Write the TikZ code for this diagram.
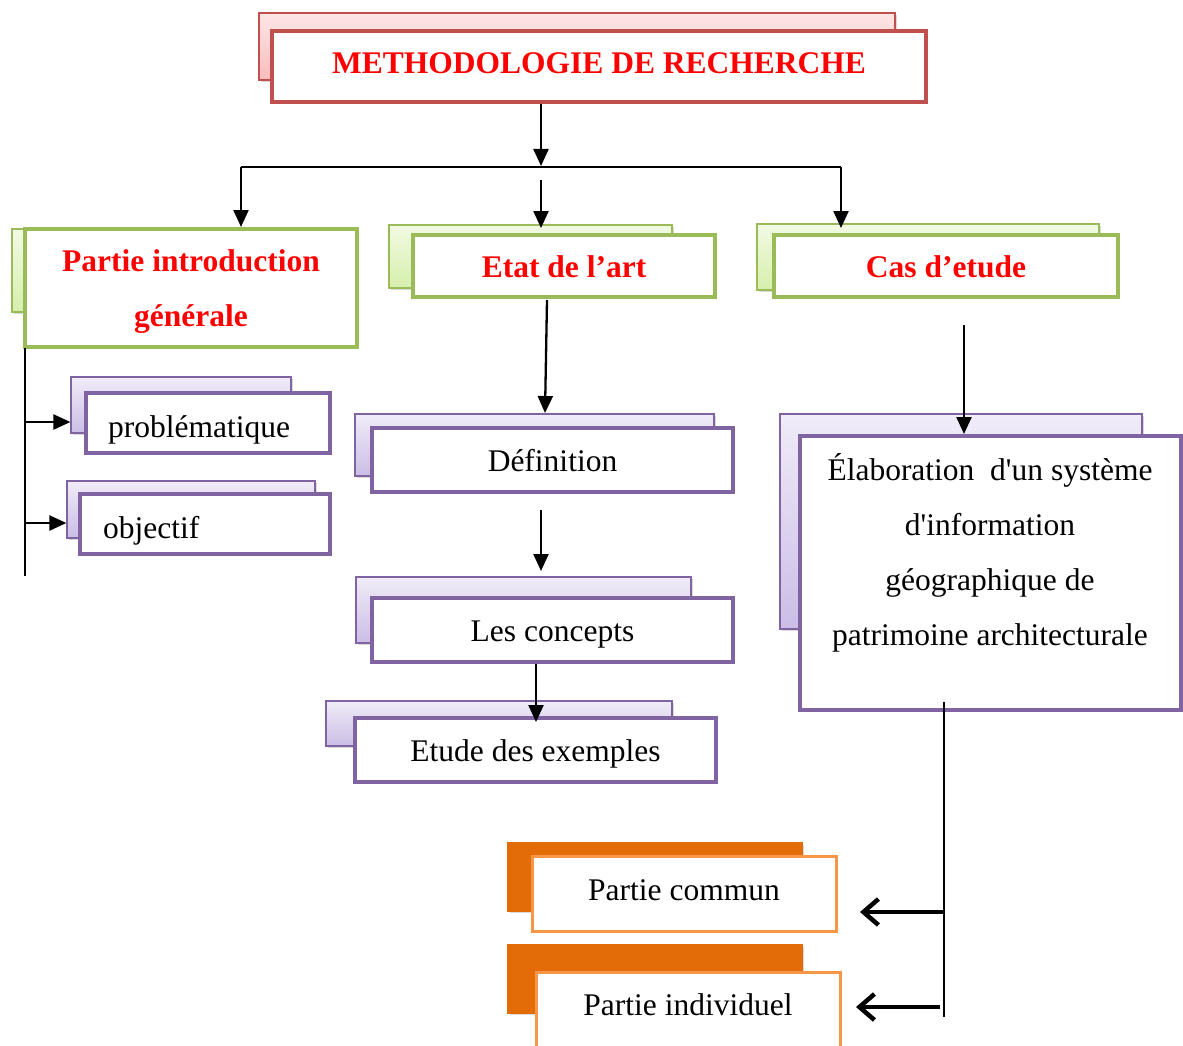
\documentclass[tikz,border=0pt]{standalone}
\usepackage{fontspec}
\setmainfont{Liberation Serif}
\usetikzlibrary{arrows.meta,shadows}
\definecolor{redB}{HTML}{C0504D}
\definecolor{greenB}{HTML}{9BBB59}
\definecolor{purpB}{HTML}{8064A2}
\definecolor{orangeB}{HTML}{F79646}
\definecolor{orangeD}{HTML}{E36C09}
\definecolor{pinkTop}{HTML}{FFE6E6}
\definecolor{pinkBot}{HTML}{F8BCBC}
\definecolor{greenTop}{HTML}{F2FAE4}
\definecolor{greenBot}{HTML}{D6EFAC}
\definecolor{purpTop}{HTML}{F0ECF8}
\definecolor{purpBot}{HTML}{CBBDE6}
\begin{document}
\begin{tikzpicture}[x=1pt,y=-1pt,
  back/.style={draw, line width=1.2, inner sep=0pt,
    drop shadow={opacity=0.3,shadow xshift=2pt,shadow yshift=-2pt}},
  backR/.style={back, draw=redB, top color=pinkTop, bottom color=pinkBot},
  backG/.style={back, draw=greenB, top color=greenTop, bottom color=greenBot},
  backP/.style={back, draw=purpB, top color=purpTop, bottom color=purpBot},
  backO/.style={back, draw=orangeD, fill=orangeD},
  front/.style={draw, fill=white, line width=4, inner sep=0pt},
  frontR/.style={front, draw=redB},
  frontG/.style={front, draw=greenB},
  frontP/.style={front, draw=purpB},
  frontO/.style={front, draw=orangeB, line width=3},
  ttl/.style={text=red, font=\bfseries\fontsize{31.5}{55}\selectfont, align=center, inner sep=0pt},
  txt/.style={font=\fontsize{31.5}{55}\selectfont, align=center, inner sep=0pt},
  arr/.style={line width=2.3, -{Triangle[length=17pt,width=15pt]}},
  oarr/.style={line width=4.5, -{Straight Barb[length=15pt,width=26pt]}},
  ln/.style={line width=2.3}]
\useasboundingbox (0,0) rectangle (1183,1046);

% ---- top
\node[backR, minimum width=636, minimum height=67] (topb) at (577,46.5) {};
\node[frontR, minimum width=654, minimum height=71] (topf) at (599,66.5) {};
\node[ttl] (topt) at (599,63) {METHODOLOGIE DE RECHERCHE};

% ---- green level
\node[backG, minimum width=308, minimum height=83] (g1b) at (166,270.5) {};
\node[frontG, minimum width=332, minimum height=118] (g1f) at (191,288) {};
\node[ttl] (g1t) at (191,292) {Partie introduction\\générale};
\node[backG, minimum width=283, minimum height=63] (g2b) at (530.5,256.5) {};
\node[frontG, minimum width=302, minimum height=62] (g2f) at (564,266) {};
\node[ttl] (g2t) at (564,267) {Etat de l’art};
\node[backG, minimum width=342, minimum height=66] (g3b) at (928,257) {};
\node[frontG, minimum width=344, minimum height=62] (g3f) at (946,266) {};
\node[ttl] (g3t) at (946,267) {Cas d’etude};

% ---- left column
\node[backP, minimum width=220, minimum height=56] (pb) at (181,405) {};
\node[frontP, minimum width=244, minimum height=60] (pf) at (208,423) {};
\node[txt, anchor=west] (pt) at (108,430) {problématique};
\node[backP, minimum width=248, minimum height=57] (ob) at (191,509.5) {};
\node[frontP, minimum width=250, minimum height=60] (of) at (205,524) {};
\node[txt, anchor=west] (ot) at (103,531) {objectif};

% ---- middle column
\node[backP, minimum width=359, minimum height=62] (db) at (534.5,445) {};
\node[frontP, minimum width=361, minimum height=64] (df) at (552.5,460) {};
\node[txt] (dt) at (552.5,461) {Définition};
\node[backP, minimum width=335, minimum height=66] (cb) at (523.5,610) {};
\node[frontP, minimum width=361, minimum height=64] (cf) at (552.5,630) {};
\node[txt] (ct) at (552.5,635) {Les concepts};
\node[backP, minimum width=346, minimum height=45] (eb) at (499,723.5) {};
\node[frontP, minimum width=361, minimum height=64] (ef) at (535.5,750) {};
\node[txt] (et) at (535.5,754) {Etude des exemples};

% ---- right column
\node[backP, minimum width=362, minimum height=215] (sb) at (961,521.5) {};
\node[frontP, minimum width=381, minimum height=274] (sf) at (990.5,573) {};
\node[txt] (st) at (990,553) {Élaboration\ \ d\textquotesingle un système\\d\textquotesingle information\\géographique de\\patrimoine architecturale};

% ---- orange
\node[backO, minimum width=294, minimum height=68] (cob) at (655,877) {};
\node[frontO, minimum width=304, minimum height=75] (cof) at (684,893.5) {};
\node[txt] (cot) at (684,890) {Partie commun};
\node[backO, minimum width=294, minimum height=68] (inb) at (655,979) {};
\node[frontO, minimum width=304, minimum height=78] (inf) at (688,1011) {};
\node[txt] (int) at (688,1005) {Partie individuel};

% ---- connectors
\coordinate (j0) at (541,166);
\coordinate (hl) at (241,167);
\coordinate (hr) at (841,167);
\coordinate (m0) at (541,180);
\draw[arr] (topf.south -| j0) -- (j0);
\draw[ln] (hl) -- (hr);
\draw[arr] (hl) -- (hl |- g1f.north);
\draw[arr] (m0) -- (541,228);
\draw[arr] (hr) -- (841,228);

\coordinate (lt) at (25,348);
\coordinate (ll) at (25,576);
\draw[ln] (lt) -- (ll);
\coordinate (l1) at (25,422);
\coordinate (l2) at (25,523);
\draw[arr] (l1) -- (l1 -| pb.west);
\draw[arr] (l2) -- (l2 -| ob.west);

\coordinate (a1) at (547,300);
\draw[arr] (a1) -- (545,413);
\coordinate (a2) at (541,510);
\draw[arr] (a2) -- (541,571);
\draw[arr] (cf.south -| 536,0) -- (536,722);

\coordinate (c1) at (964,325);
\draw[arr] (c1) -- (c1 |- sf.north);

\coordinate (r0) at (944,702);
\coordinate (r1) at (944,1017);
\draw[line width=2] (r0) -- (r1);
\coordinate (o1) at (944,912);
\coordinate (o2) at (940,1007);
\draw[oarr] (o1) -- (860,912);
\draw[oarr] (o2) -- (856,1007);
\end{tikzpicture}
\end{document}
